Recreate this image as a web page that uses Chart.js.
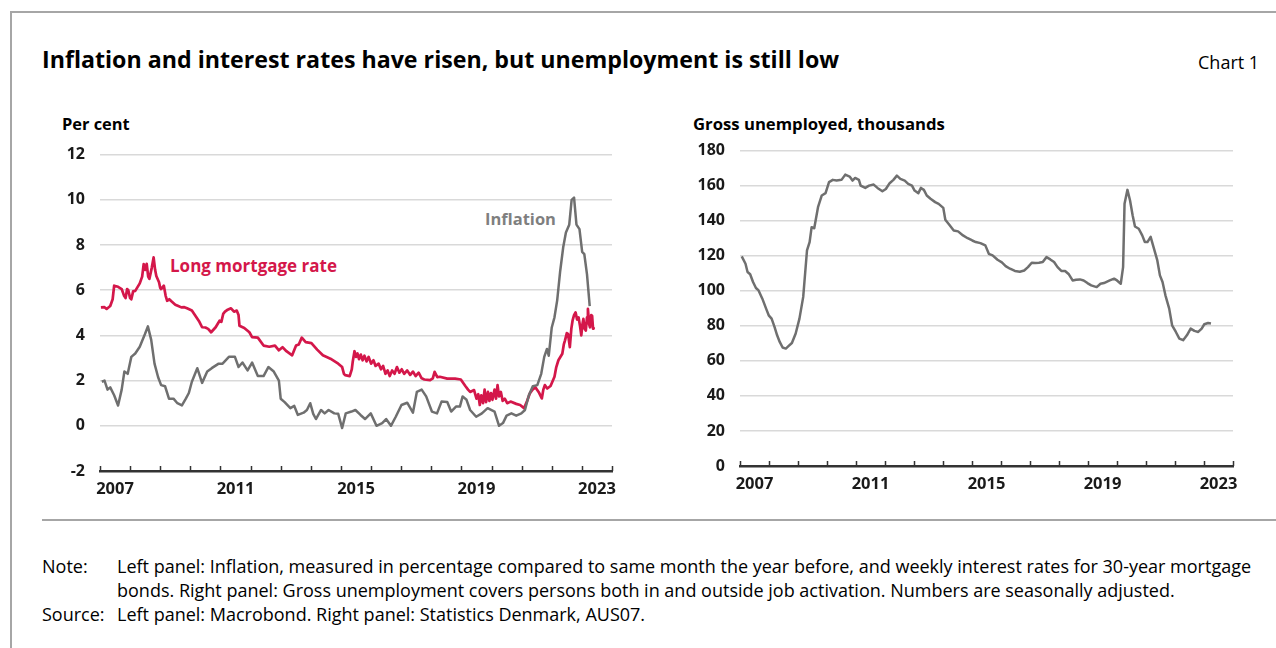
<!DOCTYPE html>
<html>
<head>
<meta charset="utf-8">
<script src="https://cdn.jsdelivr.net/npm/chart.js@4/dist/chart.umd.min.js"></script>
<style>
  body { margin: 0; background: #fff; font-family: "Open Sans", "Noto Sans", sans-serif; color: #000; }
  #page { position: relative; width: 1276px; height: 648px; overflow: hidden; }
  .abs { position: absolute; white-space: nowrap; }
  #frameTop { position: absolute; left: 10px; top: 11px; width: 1266px; height: 2px; background: #a6a6a6; }
  #frameLeft { position: absolute; left: 10px; top: 11px; width: 2px; height: 637px; background: #a6a6a6; }
  #sep { position: absolute; left: 42px; top: 519px; width: 1234px; height: 2px; background: #a6a6a6; }
  #title { left: 42px; top: 43px; font-size: 23.2px; font-weight: 700; }
  #chartNo { left: 1198px; top: 50px; font-size: 18px; }
  .axisTitle { top: 112px; font-size: 16.4px; font-weight: 700; }
  .note { font-size: 18px; line-height: 24px; }
  .seriesLabel { font-size: 16.5px; font-weight: 700; }
  canvas { position: absolute; }
</style>
</head>
<body>
<div id="page">
  <div id="frameTop"></div>
  <div id="frameLeft"></div>
  <div id="title" class="abs">Inflation and interest rates have risen, but unemployment is still low</div>
  <div id="chartNo" class="abs">Chart 1</div>
  <div class="abs axisTitle" style="left:62px">Per cent</div>
  <div class="abs axisTitle" style="left:693px;font-size:16.7px">Gross unemployed, thousands</div>
  <div class="abs seriesLabel" style="left:170px;top:254px;font-size:17px;color:#d4174a">Long mortgage rate</div>
  <div class="abs seriesLabel" style="left:485px;top:207px;color:#7f7f7f">Inflation</div>
  <canvas id="left" width="590" height="375" style="left:40px;top:130px"></canvas>
  <canvas id="right" width="570" height="374" style="left:680px;top:126px"></canvas>
  <div id="sep"></div>
  <div class="abs note" style="left:42px;top:554px">Note:</div>
  <div class="abs note" style="left:117px;top:554px">Left panel: Inflation, measured in percentage compared to same month the year before, and weekly interest rates for 30-year mortgage<br>bonds. Right panel: Gross unemployment covers persons both in and outside job activation. Numbers are seasonally adjusted.</div>
  <div class="abs note" style="left:42px;top:602px">Source:</div>
  <div class="abs note" style="left:117px;top:602px">Left panel: Macrobond. Right panel: Statistics Denmark, AUS07.</div>
</div>
<script>
// x axis labels (centred in the year)
const yearLabels = [2007, 2011, 2015, 2019, 2023];
const firstYear = 2007;
const lastYear = 2024;

// inflation, % y/y
const inflDates = [2007.06, 2007.15, 2007.25, 2007.34, 2007.47, 2007.60, 2007.72, 2007.81, 2007.92, 2008.04,
  2008.17, 2008.32, 2008.49, 2008.59, 2008.70, 2008.81, 2008.93, 2009.03, 2009.16, 2009.29,
  2009.44, 2009.57, 2009.72, 2009.85, 2009.95, 2010.05, 2010.23, 2010.39, 2010.56, 2010.71,
  2010.94, 2011.07, 2011.28, 2011.48, 2011.60, 2011.73, 2011.90, 2012.05, 2012.24, 2012.43,
  2012.59, 2012.77, 2012.94, 2013.00, 2013.13, 2013.32, 2013.45, 2013.57, 2013.76, 2013.87,
  2013.98, 2014.08, 2014.17, 2014.34, 2014.46, 2014.59, 2014.78, 2014.91, 2015.04, 2015.16,
  2015.35, 2015.48, 2015.65, 2015.80, 2015.99, 2016.18, 2016.37, 2016.50, 2016.66, 2016.82,
  2017.01, 2017.20, 2017.39, 2017.52, 2017.68, 2017.83, 2018.02, 2018.19, 2018.34, 2018.53,
  2018.66, 2018.82, 2018.95, 2019.04, 2019.17, 2019.29, 2019.49, 2019.68, 2019.87, 2020.10,
  2020.25, 2020.38, 2020.50, 2020.66, 2020.82, 2020.99, 2021.11, 2021.24, 2021.37, 2021.52,
  2021.65, 2021.75, 2021.84, 2021.90, 2022.00, 2022.09, 2022.18, 2022.28, 2022.38, 2022.47,
  2022.58, 2022.66, 2022.74, 2022.82, 2022.92, 2023.01, 2023.08, 2023.17, 2023.26];
const inflValues = [1.95, 2.0, 1.6, 1.7, 1.35, 0.9, 1.6, 2.4, 2.3, 3.05,
  3.2, 3.5, 4.05, 4.4, 3.8, 2.75, 2.15, 1.8, 1.75, 1.2,
  1.2, 1.0, 0.9, 1.2, 1.45, 1.95, 2.55, 1.9, 2.4, 2.55,
  2.75, 2.75, 3.05, 3.05, 2.6, 2.8, 2.45, 2.8, 2.2, 2.2,
  2.6, 2.4, 2.0, 1.2, 1.05, 0.78, 0.88, 0.48, 0.58, 0.7,
  1.0, 0.53, 0.3, 0.7, 0.55, 0.7, 0.55, 0.53, -0.1, 0.55,
  0.63, 0.7, 0.48, 0.3, 0.55, 0.0, 0.12, 0.3, 0.0, 0.4,
  0.92, 1.02, 0.58, 1.5, 1.6, 1.3, 0.63, 0.55, 1.07, 1.05,
  0.63, 0.85, 0.85, 1.3, 1.15, 0.7, 0.4, 0.55, 0.78, 0.63,
  0.0, 0.12, 0.45, 0.55, 0.45, 0.55, 0.7, 1.35, 1.75, 1.8,
  2.3, 3.05, 3.4, 3.1, 4.35, 4.8, 5.55, 6.85, 7.9, 8.55,
  8.9, 10.0, 10.1, 8.9, 8.7, 7.7, 7.6, 6.7, 5.3];

// long (30-year) mortgage rate, weekly, %
const mortDates = [2007.03, 2007.15, 2007.22, 2007.34, 2007.42, 2007.47, 2007.60, 2007.72, 2007.80, 2007.85,
  2007.90, 2007.94, 2008.00, 2008.04, 2008.10, 2008.17, 2008.32, 2008.40, 2008.45, 2008.50,
  2008.55, 2008.60, 2008.64, 2008.72, 2008.78, 2008.83, 2008.87, 2008.96, 2009.00, 2009.03,
  2009.12, 2009.18, 2009.23, 2009.30, 2009.38, 2009.50, 2009.60, 2009.70, 2009.80, 2009.89,
  2010.05, 2010.20, 2010.30, 2010.39, 2010.50, 2010.59, 2010.69, 2010.84, 2010.97, 2011.03,
  2011.09, 2011.15, 2011.22, 2011.35, 2011.45, 2011.54, 2011.60, 2011.63, 2011.79, 2011.96,
  2012.05, 2012.24, 2012.43, 2012.62, 2012.81, 2012.94, 2013.06, 2013.19, 2013.38, 2013.51,
  2013.60, 2013.70, 2013.83, 2014.02, 2014.21, 2014.40, 2014.65, 2014.91, 2015.04, 2015.10,
  2015.14, 2015.29, 2015.36, 2015.39, 2015.45, 2015.50, 2015.55, 2015.60, 2015.66, 2015.72,
  2015.78, 2015.85, 2015.92, 2016.00, 2016.08, 2016.15, 2016.25, 2016.33, 2016.40, 2016.48,
  2016.55, 2016.62, 2016.70, 2016.78, 2016.86, 2016.94, 2017.02, 2017.10, 2017.20, 2017.30,
  2017.39, 2017.48, 2017.58, 2017.68, 2017.77, 2017.96, 2018.05, 2018.11, 2018.20, 2018.28,
  2018.53, 2018.79, 2018.98, 2019.13, 2019.22, 2019.29, 2019.42, 2019.50, 2019.56, 2019.61,
  2019.66, 2019.72, 2019.77, 2019.82, 2019.88, 2019.93, 2019.98, 2020.03, 2020.10, 2020.15,
  2020.20, 2020.25, 2020.31, 2020.37, 2020.44, 2020.52, 2020.63, 2020.82, 2020.95, 2021.08,
  2021.18, 2021.27, 2021.36, 2021.46, 2021.58, 2021.67, 2021.72, 2021.77, 2021.85, 2021.96,
  2022.09, 2022.15, 2022.22, 2022.35, 2022.40, 2022.44, 2022.50, 2022.54, 2022.60, 2022.65,
  2022.69, 2022.74, 2022.79, 2022.84, 2022.89, 2022.94, 2022.98, 2023.02, 2023.05, 2023.09,
  2023.13, 2023.17, 2023.20, 2023.24, 2023.27, 2023.31, 2023.34, 2023.37, 2023.39];
const mortValues = [5.24, 5.25, 5.17, 5.3, 5.6, 6.2, 6.15, 6.05, 5.75, 5.65,
  6.05, 6.0, 5.65, 5.6, 5.95, 5.97, 6.3, 6.6, 7.15, 6.9,
  7.17, 6.6, 6.5, 7.0, 7.45, 6.9, 6.63, 6.35, 6.1, 6.05,
  6.2, 5.75, 5.53, 5.6, 5.5, 5.36, 5.3, 5.24, 5.25, 5.2,
  5.1, 4.8, 4.6, 4.36, 4.35, 4.29, 4.14, 4.36, 4.65, 4.6,
  4.95, 5.05, 5.12, 5.2, 5.05, 5.1, 4.9, 4.43, 4.33, 4.14,
  3.92, 3.9, 3.55, 3.5, 3.55, 3.34, 3.48, 3.3, 3.12, 3.55,
  3.6, 3.9, 3.7, 3.66, 3.37, 3.12, 2.97, 2.75, 2.6, 2.3,
  2.24, 2.2, 2.5, 2.82, 3.3, 3.05, 3.2, 2.95, 3.15, 2.9,
  3.1, 2.85, 3.05, 2.75, 2.9, 2.65, 2.75, 2.5, 2.65, 2.3,
  2.45, 2.2, 2.45, 2.3, 2.6, 2.35, 2.5, 2.3, 2.45, 2.25,
  2.4, 2.2, 2.35, 2.1, 2.05, 2.02, 2.1, 2.39, 2.15, 2.17,
  2.09, 2.09, 2.05, 1.76, 1.6, 1.5, 1.58, 1.2, 1.4, 0.92,
  1.35, 1.0, 1.6, 1.05, 1.5, 1.1, 1.45, 1.15, 1.6, 1.2,
  1.8, 1.3, 1.5, 1.1, 1.2, 1.0, 1.07, 0.97, 0.92, 0.78,
  1.1, 1.43, 1.6, 1.7, 1.46, 1.21, 1.6, 1.8, 1.65, 1.76,
  2.17, 2.6, 2.9, 3.19, 3.6, 3.78, 4.1, 4.07, 3.48, 4.3,
  4.65, 4.9, 5.02, 4.7, 4.8, 4.4, 4.0, 4.5, 4.73, 4.3,
  4.21, 4.8, 5.17, 4.5, 4.36, 4.9, 4.87, 4.3, 4.36];

// gross unemployed, thousands
const unempDates = [2007.06, 2007.19, 2007.26, 2007.35, 2007.45, 2007.55, 2007.64, 2007.77, 2007.90, 2007.99,
  2008.09, 2008.19, 2008.28, 2008.37, 2008.47, 2008.58, 2008.67, 2008.79, 2008.92, 2009.05,
  2009.18, 2009.31, 2009.40, 2009.47, 2009.56, 2009.69, 2009.82, 2009.95, 2010.07, 2010.20,
  2010.33, 2010.50, 2010.63, 2010.78, 2010.88, 2010.97, 2011.10, 2011.16, 2011.32, 2011.45,
  2011.61, 2011.74, 2011.91, 2012.03, 2012.16, 2012.29, 2012.41, 2012.53, 2012.68, 2012.80,
  2012.93, 2013.02, 2013.15, 2013.24, 2013.34, 2013.44, 2013.57, 2013.73, 2013.85, 2014.01,
  2014.08, 2014.21, 2014.37, 2014.52, 2014.69, 2014.85, 2015.01, 2015.13, 2015.29, 2015.46,
  2015.58, 2015.71, 2015.88, 2016.03, 2016.16, 2016.31, 2016.48, 2016.65, 2016.80, 2016.93,
  2017.06, 2017.18, 2017.31, 2017.44, 2017.57, 2017.70, 2017.83, 2017.95, 2018.08, 2018.21,
  2018.34, 2018.47, 2018.59, 2018.72, 2018.85, 2018.98, 2019.11, 2019.30, 2019.43, 2019.55,
  2019.75, 2019.90, 2020.00, 2020.13, 2020.21, 2020.26, 2020.36, 2020.45, 2020.54, 2020.62,
  2020.75, 2020.87, 2020.96, 2021.05, 2021.16, 2021.26, 2021.39, 2021.48, 2021.57, 2021.67,
  2021.80, 2021.90, 2022.03, 2022.15, 2022.28, 2022.41, 2022.54, 2022.67, 2022.80, 2022.92,
  2023.01, 2023.14, 2023.24];
const unempValues = [119.6, 115.4, 110.7, 109.4, 105, 101.6, 100.2, 95.5, 89.8, 86,
  84.1, 79.4, 74.6, 70.8, 67.6, 67, 68.4, 70.2, 75.6, 84.1,
  96.5, 123, 127.8, 136.3, 135.7, 147.7, 154.4, 155.7, 162, 163.3,
  162.9, 163.3, 166.3, 165.2, 162.9, 164.4, 163.3, 160, 158.7, 160,
  160.6, 158.7, 156.8, 158.1, 161.4, 163.3, 165.7, 163.9, 162.9, 161,
  160, 157.2, 155.7, 158.7, 157.6, 154.4, 152.5, 150.6, 149.6, 147.3,
  140.5, 137.8, 134.4, 133.9, 131.6, 130, 128.7, 127.8, 127.2, 125.9,
  121.1, 120.2, 117.7, 116.2, 114.1, 112.6, 111.3, 110.9, 111.6, 113.5,
  116, 115.8, 116, 116.4, 119.2, 117.9, 116.4, 113.5, 111.3, 111.3,
  109.4, 105.9, 106.3, 106.5, 105.9, 104.4, 103.1, 102.1, 104, 104.4,
  105.9, 106.9, 105.9, 104, 113.5, 149.6, 157.6, 151.5, 143, 136.7,
  135.4, 131.6, 127.8, 127.8, 130.8, 124.9, 117.3, 108.8, 105, 97.4,
  89.8, 80.3, 76.5, 72.7, 71.8, 74.6, 78.4, 77.1, 76.5, 78.4,
  80.9, 81.6, 81.3];

const RED = "#d4174a";
const GREY = "#6f6f6f";
const FONT = "'Open Sans', 'Noto Sans', sans-serif";

function pairs(xs, ys) {
  return xs.map((x, i) => ({ x: x, y: ys[i] }));
}

// small tick marks pointing up from the x axis, one per year boundary
const yearTicks = {
  id: "yearTicks",
  afterDraw(chart) {
    const xs = chart.scales.x;
    const c = chart.ctx;
    const y0 = chart.chartArea.bottom;
    c.save();
    c.strokeStyle = "#333";
    c.lineWidth = 1.5;
    c.beginPath();
    for (let yr = firstYear; yr <= lastYear; yr++) {
      const px = Math.round(xs.getPixelForValue(yr)) + 0.5;
      c.moveTo(px, y0);
      c.lineTo(px, y0 - 5);
    }
    c.stroke();
    c.restore();
  },
};

function makeOptions(yMin, yMax, yStep, pad) {
  return {
    responsive: false,
    animation: false,
    layout: { padding: pad },
    plugins: { legend: { display: false }, tooltip: { enabled: false } },
    elements: { point: { radius: 0 }, line: { tension: 0, borderJoinStyle: "round" } },
    scales: {
      x: {
        type: "linear",
        min: firstYear,
        max: lastYear,
        afterBuildTicks: (s) => {
          s.ticks = yearLabels.map((yr) => ({ value: yr + 0.5 }));
        },
        afterFit: (s) => { s.height = 34; },
        grid: { display: false, drawTicks: false },
        border: { display: true, color: "#333", width: 2.5 },
        ticks: {
          autoSkip: false,
          maxRotation: 0,
          padding: 8,
          color: "#1a1a1a",
          font: { family: FONT, size: 16.5, weight: "bold" },
          callback: (v) => String(Math.round(v - 0.5)),
        },
      },
      y: {
        min: yMin,
        max: yMax,
        afterFit: (s) => { s.width = 60; },
        grid: { color: "#d9d9d9", lineWidth: 1.5, drawTicks: false },
        border: { display: false },
        ticks: {
          stepSize: yStep,
          padding: 15,
          color: "#1a1a1a",
          font: { family: FONT, size: 16, weight: "bold" },
        },
      },
    },
  };
}

new Chart(document.getElementById("left"), {
  type: "line",
  data: {
    datasets: [
      { label: "Inflation", data: pairs(inflDates, inflValues), borderColor: GREY, borderWidth: 2.5 },
      { label: "Long mortgage rate", data: pairs(mortDates, mortValues), borderColor: RED, borderWidth: 2.7 },
    ],
  },
  options: makeOptions(-2, 12, 2, { top: 3, right: 18, left: 0, bottom: 0 }),
  plugins: [yearTicks],
});

new Chart(document.getElementById("right"), {
  type: "line",
  data: {
    datasets: [
      { label: "Gross unemployed", data: pairs(unempDates, unempValues), borderColor: GREY, borderWidth: 2.5 },
    ],
  },
  options: makeOptions(0, 180, 20, { top: 3, right: 17, left: 0, bottom: 0 }),
  plugins: [yearTicks],
});
</script>
</body>
</html>
